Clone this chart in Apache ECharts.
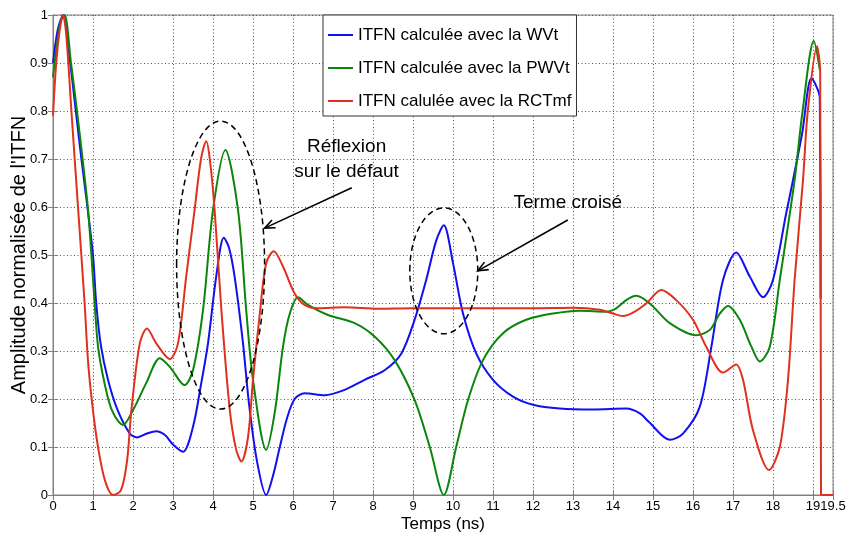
<!DOCTYPE html>
<html>
<head>
<meta charset="utf-8">
<script src="https://cdn.jsdelivr.net/npm/echarts@6/dist/echarts.min.js"></script>
<style>
html,body{margin:0;padding:0;background:#fff;}
#c{width:849px;height:536px;}
</style>
</head>
<body>
<div id="c"></div>
<script>
const seriesNames = ['ITFN calculée avec la WVt', 'ITFN calculée avec la PWVt', 'ITFN calulée avec la RCTmf'];
const xTickLabels = [0,1,2,3,4,5,6,7,8,9,10,11,12,13,14,15,16,17,18,19,19.5];
const yTickLabels = [0,0.1,0.2,0.3,0.4,0.5,0.6,0.7,0.8,0.9,1];

const wvt = [[0,0.9],[0.12,0.97],[0.25,1.0],[0.43,0.9],[0.57,0.8],[0.71,0.7],[0.86,0.6],[1.0,0.5],[1.08,0.4],[1.2,0.31],[1.375,0.24],[1.6,0.18],[1.92,0.128],[2.1,0.12],[2.35,0.128],[2.58,0.133],[2.8,0.125],[3.0,0.105],[3.25,0.09],[3.5,0.142],[3.7,0.23],[3.875,0.316],[4.08,0.455],[4.27,0.536],[4.4,0.515],[4.54,0.455],[4.75,0.316],[4.9,0.19],[5.1,0.07],[5.33,0.0],[5.5,0.04],[5.67,0.1],[5.85,0.16],[6.04,0.2],[6.29,0.212],[6.79,0.208],[7.29,0.219],[7.79,0.24],[8.29,0.26],[8.71,0.295],[9.04,0.365],[9.33,0.448],[9.58,0.53],[9.77,0.562],[10.0,0.483],[10.25,0.378],[10.58,0.295],[11.0,0.24],[11.5,0.205],[12.0,0.188],[12.67,0.18],[13.5,0.178],[14.33,0.18],[14.67,0.17],[14.9,0.152],[15.42,0.115],[15.75,0.128],[16.17,0.184],[16.46,0.309],[16.75,0.448],[17.08,0.505],[17.42,0.455],[17.75,0.412],[18.0,0.448],[18.33,0.587],[18.5,0.656],[18.73,0.754],[18.96,0.868],[19.17,0.827],[19.19,0.41]];

const pwvt = [[0,0.87],[0.1,0.94],[0.2,0.99],[0.29,1.0],[0.45,0.9],[0.6,0.8],[0.74,0.7],[0.87,0.6],[0.96,0.5],[1.04,0.4],[1.14,0.3],[1.38,0.2],[1.54,0.165],[1.75,0.146],[2.0,0.177],[2.33,0.233],[2.67,0.285],[2.92,0.267],[3.29,0.229],[3.5,0.26],[3.75,0.385],[4.0,0.594],[4.31,0.719],[4.625,0.594],[4.83,0.385],[5.0,0.24],[5.33,0.094],[5.54,0.17],[5.75,0.309],[5.92,0.378],[6.125,0.412],[6.375,0.396],[6.875,0.375],[7.54,0.358],[8.04,0.33],[8.54,0.281],[9.04,0.198],[9.42,0.1],[9.77,0.0],[10.08,0.1],[10.375,0.198],[10.75,0.281],[11.25,0.337],[11.83,0.365],[12.5,0.378],[13.17,0.384],[13.83,0.382],[14.08,0.389],[14.33,0.406],[14.58,0.415],[14.92,0.399],[15.42,0.358],[16.08,0.333],[16.42,0.344],[16.67,0.378],[16.875,0.394],[17.17,0.365],[17.46,0.309],[17.67,0.278],[17.92,0.309],[18.17,0.448],[18.54,0.656],[18.74,0.8],[19.02,0.946],[19.17,0.886]];

const rctmf = [[0,0.79],[0.08,0.9],[0.17,0.97],[0.25,1.0],[0.33,0.96],[0.46,0.8],[0.625,0.6],[0.79,0.4],[0.875,0.28],[0.98,0.19],[1.125,0.1],[1.3,0.03],[1.5,0.0],[1.7,0.01],[1.85,0.07],[1.96,0.177],[2.17,0.316],[2.35,0.347],[2.58,0.316],[2.92,0.283],[3.125,0.316],[3.33,0.455],[3.54,0.594],[3.7,0.7],[3.83,0.737],[3.92,0.7],[4.04,0.594],[4.21,0.385],[4.42,0.177],[4.58,0.094],[4.71,0.07],[4.875,0.12],[5.0,0.24],[5.17,0.378],[5.33,0.483],[5.52,0.508],[5.75,0.476],[6.04,0.42],[6.29,0.396],[6.625,0.389],[7.29,0.391],[8.125,0.388],[9.0,0.389],[10.0,0.389],[11.0,0.389],[12.0,0.389],[13.0,0.39],[13.67,0.386],[14.0,0.378],[14.25,0.373],[14.5,0.38],[14.83,0.399],[15.21,0.427],[15.58,0.406],[16.0,0.365],[16.33,0.309],[16.75,0.255],[17.08,0.272],[17.25,0.24],[17.5,0.135],[17.9,0.052],[18.17,0.1],[18.375,0.24],[18.54,0.448],[18.75,0.656],[18.87,0.8],[19.1,0.935],[19.18,0.88],[19.2,0.0],[19.5,0.0]];

const colors = ['#1010f0', '#0b860b', '#e0301e'];
const FONT = "'Liberation Sans', Arial, sans-serif";

const chart = echarts.init(document.getElementById('c'), null, {renderer: 'canvas'});

const gridLine = {show: true, lineStyle: {color: '#555', width: 1, type: [1, 2.5]}};
const frameColor = '#808080';

function mkSeries(name, data, color) {
  return {
    name: name, type: 'line', data: data, symbol: 'none', smooth: 0.3,
    lineStyle: {color: color, width: 2}, itemStyle: {color: color},
    animation: false, z: 3
  };
}

chart.setOption({
  animation: false,
  backgroundColor: '#fff',
  textStyle: {fontFamily: FONT},
  grid: {left: 53, right: 16, top: 15, bottom: 41, show: true, borderColor: frameColor, borderWidth: 1,
    backgroundColor: 'transparent', containLabel: false, outerBoundsMode: 'none'},
  legend: {
    orient: 'vertical', left: 323, top: 15,
    data: seriesNames,
    itemWidth: 25, itemHeight: 2, itemGap: 13,
    padding: [10, 5, 5, 5],
    backgroundColor: '#fff', borderColor: '#333', borderWidth: 1,
    textStyle: {fontFamily: FONT, fontSize: 17, color: '#000', lineHeight: 20},
    icon: 'rect'
  },
  xAxis: [{
    type: 'value', min: 0, max: 19.5, interval: 1,
    name: 'Temps (ns)', nameLocation: 'middle', nameGap: 21, nameMoveOverlap: false,
    nameTextStyle: {fontFamily: FONT, fontSize: 17, color: '#000'},
    axisLine: {show: true, lineStyle: {color: frameColor}},
    axisTick: {show: true, inside: true, length: 5, lineStyle: {color: frameColor}, customValues: xTickLabels},
    axisLabel: {show: true, color: '#000', fontSize: 13, margin: 5, fontFamily: FONT, customValues: xTickLabels,
      formatter: v => String(v)},
    splitLine: gridLine
  }, {
    type: 'value', min: 0, max: 19.5, interval: 1, position: 'top',
    axisLine: {show: false}, axisTick: {show: true, inside: true, length: 5, lineStyle: {color: frameColor}},
    axisLabel: {show: false}, splitLine: {show: false}
  }],
  yAxis: [{
    type: 'value', min: 0, max: 1, interval: 0.1,
    name: "Amplitude normalisée de l'ITFN", nameLocation: 'middle', nameGap: 24, nameMoveOverlap: false,
    nameTextStyle: {fontFamily: FONT, fontSize: 20, color: '#000'},
    axisLine: {show: true, lineStyle: {color: frameColor}},
    axisTick: {show: true, inside: true, length: 5, lineStyle: {color: frameColor}},
    axisLabel: {show: true, color: '#000', fontSize: 13, margin: 5, fontFamily: FONT,
      formatter: v => String(Math.round(v * 10) / 10)},
    splitLine: gridLine
  }, {
    type: 'value', min: 0, max: 1, interval: 0.1, position: 'right',
    axisLine: {show: false}, axisTick: {show: true, inside: true, length: 5, lineStyle: {color: frameColor}},
    axisLabel: {show: false}, splitLine: {show: false}
  }],
  series: [
    mkSeries(seriesNames[0], wvt, colors[0]),
    mkSeries(seriesNames[1], pwvt, colors[1]),
    mkSeries(seriesNames[2], rctmf, colors[2])
  ]
});

function P(t, v) { return chart.convertToPixel({gridIndex: 0}, [t, v]); }
function ellipse(tc, vc, dt, dv) {
  const c = P(tc, vc), e = P(tc + dt, vc + dv);
  return {type: 'ellipse', z: 10, silent: true,
    shape: {cx: c[0], cy: c[1], rx: Math.abs(e[0] - c[0]), ry: Math.abs(e[1] - c[1])},
    style: {fill: null, stroke: '#000', lineWidth: 1.5, lineDash: [6, 4]}};
}
function arrow(t0, v0, t1, v1) {
  const a = P(t0, v0), b = P(t1, v1);
  const ang = Math.atan2(b[1] - a[1], b[0] - a[0]);
  const L = 11, w = 0.4;
  const h1 = [b[0] - L * Math.cos(ang - w), b[1] - L * Math.sin(ang - w)];
  const h2 = [b[0] - L * Math.cos(ang + w), b[1] - L * Math.sin(ang + w)];
  return [
    {type: 'line', z: 10, silent: true, shape: {x1: a[0], y1: a[1], x2: b[0], y2: b[1]}, style: {stroke: '#000', lineWidth: 1.6}},
    {type: 'polyline', z: 10, silent: true, shape: {points: [h1, b, h2]}, style: {stroke: '#000', lineWidth: 1.6, fill: null}}
  ];
}
function label(t, v, text) {
  const p = P(t, v);
  return {type: 'text', z: 10, silent: true, x: p[0], y: p[1],
    style: {text: text, fill: '#000', font: '19px ' + FONT, align: 'center', verticalAlign: 'middle'}};
}

chart.setOption({
  graphic: [
    ellipse(4.19, 0.479, 1.1, 0.3),
    ellipse(9.77, 0.467, 0.85, 0.131),
    ...arrow(7.47, 0.64, 5.29, 0.556),
    ...arrow(12.87, 0.573, 10.62, 0.467),
    label(7.34, 0.725, 'Réflexion'),
    label(7.34, 0.673, 'sur le défaut'),
    label(12.87, 0.608, 'Terme croisé')
  ]
});
</script>
</body>
</html>
